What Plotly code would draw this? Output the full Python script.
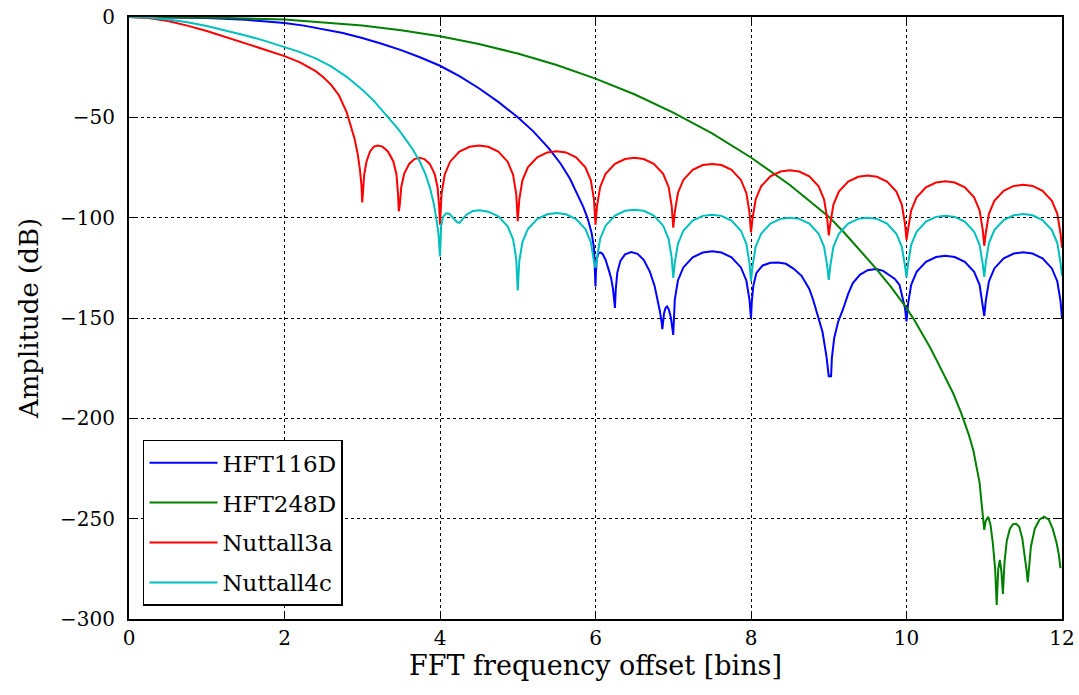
import plotly.graph_objects as go

# ---------------- data ----------------
nut3a_x = [0, 0.25, 0.5, 0.75, 1.0, 1.25, 1.5, 1.75, 2.0, 2.2, 2.4, 2.5, 2.6, 2.7, 2.8, 2.85, 2.9, 2.94, 2.97, 2.99, 3.0,
           3.008, 3.025, 3.055, 3.10, 3.15, 3.2, 3.26, 3.33, 3.40, 3.44, 3.46, 3.47,
           3.481, 3.502, 3.539, 3.603, 3.671, 3.735, 3.799, 3.868, 3.931, 3.968, 3.989, 4.0,
           4.02, 4.06, 4.13, 4.25, 4.38, 4.5, 4.62, 4.75, 4.87, 4.94, 4.98, 5.0,
           5.02, 5.06, 5.13, 5.25, 5.38, 5.5, 5.62, 5.75, 5.87, 5.94, 5.98, 6.0,
           6.02, 6.06, 6.13, 6.25, 6.38, 6.5, 6.62, 6.75, 6.87, 6.94, 6.98, 7.0,
           7.02, 7.06, 7.13, 7.25, 7.38, 7.5, 7.62, 7.75, 7.87, 7.94, 7.98, 8.0,
           8.02, 8.06, 8.13, 8.25, 8.38, 8.5, 8.62, 8.75, 8.87, 8.94, 8.98, 9.0,
           9.02, 9.06, 9.13, 9.25, 9.38, 9.5, 9.62, 9.75, 9.87, 9.94, 9.98, 10.0,
           10.02, 10.06, 10.13, 10.25, 10.38, 10.5, 10.62, 10.75, 10.87, 10.94, 10.98, 11.0,
           11.02, 11.06, 11.13, 11.25, 11.38, 11.5, 11.62, 11.75, 11.87, 11.94, 11.98, 12.0]
nut3a_y = [0, -0.5, -2.0, -4.3, -7.0, -10.0, -13.2, -16.3, -19.5, -22.6, -27.0, -30.0, -33.8, -39, -47.5, -53.5, -60.5, -68, -76, -84, -92.4,
           -88, -78.5, -72, -67, -64.6, -64, -64.6, -67, -72, -78.5, -88, -96.8,
           -94.2, -84.7, -78.2, -73.2, -70.8, -70.2, -70.8, -73.2, -78.2, -84.7, -94.2, -103.5,
           -88.1, -78.6, -72.1, -67.1, -64.7, -64.1, -64.7, -67.1, -72.1, -78.6, -88.1, -101.8,
           -90.9, -81.4, -74.9, -69.9, -67.5, -66.9, -67.5, -69.9, -74.9, -81.4, -90.9, -103.5,
           -94.2, -84.7, -78.2, -73.2, -70.8, -70.2, -70.8, -73.2, -78.2, -84.7, -94.2, -105,
           -97.2, -87.7, -81.2, -76.2, -73.8, -73.2, -73.8, -76.2, -81.2, -87.7, -97.2, -107.3,
           -100.4, -90.9, -84.4, -79.4, -77.0, -76.4, -77.0, -79.4, -84.4, -90.9, -100.4, -108.8,
           -103, -93.5, -87, -82, -79.6, -79, -79.6, -82, -87, -93.5, -103, -111,
           -105.9, -96.4, -89.9, -84.9, -82.5, -81.9, -82.5, -84.9, -89.9, -96.4, -105.9, -114,
           -107.6, -98.1, -91.6, -86.6, -84.2, -83.6, -84.2, -86.6, -91.6, -98.1, -107.6, -115]

nut4c_x = [0, 0.25, 0.5, 0.75, 1.0, 1.25, 1.5, 1.75, 2.0, 2.2, 2.4, 2.6, 2.8, 3.0, 3.15, 3.3, 3.45, 3.55, 3.65,
           3.74, 3.81, 3.87, 3.92, 3.955, 3.98, 4.0,
           4.005, 4.015, 4.04, 4.08, 4.12, 4.17, 4.22, 4.25, 4.29, 4.34, 4.42, 4.51, 4.62, 4.75, 4.87, 4.94, 4.98, 5.0,
           5.02, 5.06, 5.13, 5.25, 5.38, 5.5, 5.62, 5.75, 5.87, 5.94, 5.98, 6.0,
           6.02, 6.06, 6.13, 6.25, 6.38, 6.5, 6.62, 6.75, 6.87, 6.94, 6.98, 7.0,
           7.02, 7.06, 7.13, 7.25, 7.38, 7.5, 7.62, 7.75, 7.87, 7.94, 7.98, 8.0,
           8.02, 8.06, 8.13, 8.25, 8.38, 8.5, 8.62, 8.75, 8.87, 8.94, 8.98, 9.0,
           9.02, 9.06, 9.13, 9.25, 9.38, 9.5, 9.62, 9.75, 9.87, 9.94, 9.98, 10.0,
           10.02, 10.06, 10.13, 10.25, 10.38, 10.5, 10.62, 10.75, 10.87, 10.94, 10.98, 11.0,
           11.02, 11.06, 11.13, 11.25, 11.38, 11.5, 11.62, 11.75, 11.87, 11.94, 11.98, 12.0]
nut4c_y = [0, -0.3, -1.2, -2.6, -4.5, -6.7, -9.2, -11.9, -14.8, -17.5, -20.6, -24.6, -29.8, -36.2, -41.8, -48.3, -55.3, -60.5, -66,
           -72, -78, -85, -93, -101, -108, -119.3,
           -112, -104, -99.5, -97.8, -98, -100, -102.3, -102.6, -101, -98.5, -96.7, -96.3, -97, -99.3, -104.3, -110.8, -120.3, -136.3,
           -121.7, -112.2, -105.7, -100.7, -98.3, -97.7, -98.3, -100.7, -105.7, -112.2, -121.7, -125,
           -120, -110.5, -104, -99, -96.6, -96, -96.6, -99, -104, -110.5, -120, -130,
           -122.5, -113, -106.5, -101.5, -99.1, -98.5, -99.1, -101.5, -106.5, -113, -122.5, -131.7,
           -124, -114.5, -108, -103, -100.6, -100, -100.6, -103, -108, -114.5, -124, -131,
           -124, -114.5, -108, -103, -100.6, -100, -100.6, -103, -108, -114.5, -124, -129.6,
           -123, -113.5, -107, -102, -99.6, -99, -99.6, -102, -107, -113.5, -123, -129.5,
           -122.2, -112.7, -106.2, -101.2, -98.8, -98.2, -98.8, -101.2, -106.2, -112.7, -122.2, -129]

hft116_x = [0, 0.5, 1.0, 1.5, 2.0, 2.25, 2.5, 2.75, 3.0, 3.25, 3.5, 3.75, 4.0, 4.25, 4.5, 4.75, 5.0, 5.2, 5.4, 5.55,
            5.67, 5.76, 5.84, 5.9, 5.95, 5.98, 6.0,
            6.005, 6.015, 6.035, 6.06, 6.09, 6.13, 6.17, 6.2, 6.225, 6.24, 6.25,
            6.26, 6.28, 6.32, 6.38, 6.46, 6.54, 6.62, 6.7, 6.76, 6.8, 6.83, 6.85, 6.86,
            6.88, 6.9, 6.92, 6.945, 6.97, 6.99, 7.0,
            7.02, 7.06, 7.13, 7.25, 7.38, 7.5, 7.62, 7.75, 7.87, 7.94, 7.98, 8.0,
            8.01, 8.03, 8.07, 8.15, 8.25, 8.35, 8.45, 8.55, 8.65, 8.75, 8.8, 8.86, 8.92, 8.97, 9.0, 9.03,
            9.04, 9.07, 9.12, 9.18, 9.25, 9.31, 9.4, 9.5, 9.61, 9.7, 9.78, 9.85, 9.91, 9.95, 9.98, 10.0,
            10.02, 10.06, 10.13, 10.25, 10.38, 10.5, 10.62, 10.75, 10.87, 10.94, 10.98, 11.0,
            11.02, 11.06, 11.13, 11.25, 11.38, 11.5, 11.62, 11.75, 11.87, 11.94, 11.98, 12.0]
hft116_y = [0, -0.1, -0.5, -1.4, -3.0, -4.3, -6.0, -8.0, -10.5, -13.3, -16.5, -20.2, -24.3, -29.5, -35.5, -42.3, -50, -57, -65.5, -73,
            -80.5, -87.5, -94.4, -100.5, -107.6, -115, -134.3,
            -128, -121, -118, -117.3, -118, -121, -126, -130, -135.5, -140, -145,
            -136, -127.5, -121.5, -118.3, -117.1, -118, -121, -127, -134, -141, -147, -152, -155.5,
            -148, -145, -144.2, -146, -150, -155, -158.4,
            -140.8, -131.3, -124.8, -119.8, -117.4, -116.8, -117.4, -119.8, -124.8, -131.3, -140.8, -150.4,
            -142, -134, -127.5, -123.8, -122.5, -122.3, -123, -125.5, -129, -135.5, -141, -148.5, -157, -169, -179, -179,
            -170, -160, -152, -146, -138, -132.6, -128.5, -126.2, -125.6, -126.5, -128.5, -130.5, -133.5, -140, -145, -151.7,
            -143, -133.5, -127, -122, -119.6, -119, -119.6, -122, -127, -133.5, -143, -149,
            -141.3, -131.8, -125.3, -120.3, -117.9, -117.3, -117.9, -120.3, -125.3, -131.8, -141.3, -150]

hft248_x = [0, 1, 2, 3, 3.5, 4, 4.5, 5, 5.5, 6, 6.5, 7, 7.5, 8, 8.5, 9.0, 9.2, 9.4, 9.6, 9.8, 10.0,
            10.1, 10.2, 10.3, 10.4, 10.5, 10.6, 10.7, 10.8, 10.86, 10.91, 10.94, 10.965, 10.985, 11.0,
            11.02, 11.05, 11.08, 11.11, 11.14, 11.16, 11.18, 11.2, 11.22, 11.24,
            11.26, 11.29, 11.33, 11.37, 11.41, 11.45, 11.49, 11.52, 11.545, 11.56,
            11.575, 11.6, 11.65, 11.71, 11.77, 11.83, 11.88, 11.93, 11.96, 11.98]
hft248_y = [0, -0.2, -1.3, -4.2, -6.6, -9.6, -13.5, -18.2, -23.9, -30.7, -38.5, -47.7, -58, -70, -83.7, -99.5, -107.5, -116, -125, -134.5, -145,
            -151, -157.5, -164.5, -172, -179.5, -187.5, -197, -208, -216, -225, -232, -242, -251, -255.6,
            -251, -249, -253, -262, -275, -293, -275, -270.6, -276, -287.5,
            -272, -261, -255, -252.8, -252.6, -254, -260, -268, -276, -281.7,
            -273, -264, -255, -250.5, -249, -250.5, -255, -262, -268, -274.7]

series_names = ["HFT116D", "HFT248D", "Nuttall3a", "Nuttall4c"]
series_colors = ["#0000ff", "#008000", "#ff0000", "#00bfbf"]
series_x = [hft116_x, hft248_x, nut3a_x, nut4c_x]
series_y = [hft116_y, hft248_y, nut3a_y, nut4c_y]

x_ticks = [0, 2, 4, 6, 8, 10, 12]
y_ticks = [0, -50, -100, -150, -200, -250, -300]

FONT = "DejaVu Serif, serif"

fig = go.Figure()
for name, color, xs, ys in zip(series_names, series_colors, series_x, series_y):
    fig.add_trace(go.Scatter(x=xs, y=ys, mode="lines", name=name, legendgroup=name,
                             line=dict(color=color, width=2)))

axis_common = dict(showline=True, linecolor="black", linewidth=2, mirror="ticks",
                   ticks="inside", ticklen=8, tickwidth=1.2, tickcolor="black",
                   showgrid=True, gridcolor="black", griddash="dot", gridwidth=1,
                   zeroline=False, automargin=False,
                   tickfont=dict(family=FONT, size=20, color="black"))

fig.update_xaxes(range=[0, 12], tickvals=x_ticks,
                 title=dict(text="FFT frequency offset [bins]", font=dict(family=FONT, size=27, color="black"), standoff=6),
                 **axis_common)
fig.update_yaxes(range=[-300, 0], tickvals=y_ticks,
                 title=dict(text="Amplitude (dB)", font=dict(family=FONT, size=26, color="black"), standoff=14),
                 ticklabelstandoff=8,
                 **axis_common)

fig.update_layout(
    width=1079, height=695,
    margin=dict(l=129, r=17, t=17, b=76),
    paper_bgcolor="white", plot_bgcolor="white",
    font=dict(family=FONT, color="black"),
    legend=dict(x=0.015, y=0.022, xanchor="left", yanchor="bottom",
                bgcolor="white", bordercolor="black", borderwidth=1.5,
                font=dict(family=FONT, size=23, color="black"),
                itemwidth=68, tracegroupgap=7),
)

fig.write_html("out.html")
